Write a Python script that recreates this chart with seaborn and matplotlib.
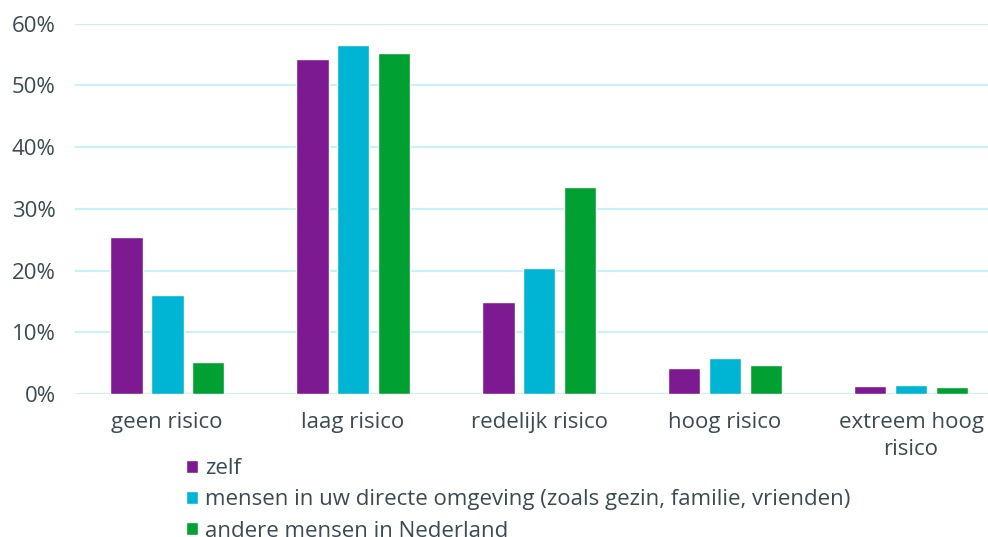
import pandas as pd
import matplotlib.pyplot as plt
import seaborn as sns

# categorieën en waarden (in %)
categories = ["geen risico", "laag risico", "redelijk risico", "hoog risico", "extreem hoog\nrisico"]
series_names = [
    "zelf",
    "mensen in uw directe omgeving (zoals gezin, familie, vrienden)",
    "andere mensen in Nederland",
]
zelf = [25.4, 54.3, 14.9, 4.3, 1.3]
omgeving = [16.0, 56.6, 20.4, 5.8, 1.5]
nederland = [5.2, 55.2, 33.6, 4.8, 1.1]

colors = ["#7D1A91", "#00B5D4", "#00A132"]
text_color = "#3B4B52"

df = pd.DataFrame({
    "categorie": categories * 3,
    "groep": [series_names[0]] * 5 + [series_names[1]] * 5 + [series_names[2]] * 5,
    "waarde": zelf + omgeving + nederland,
})

sns.set_style("white")
plt.rcParams["font.family"] = ["Open Sans", "DejaVu Sans"]

fig = plt.figure(figsize=(9.88, 5.37), dpi=100)
ax = fig.add_axes([0.076, 0.266, 0.924, 0.690])

sns.barplot(data=df, x="categorie", y="waarde", hue="groep", palette=colors,
            width=0.66, gap=0.2, ax=ax, legend=True, saturation=1)

ax.set_ylim(0, 60)
ax.set_xlim(-0.495, 4.414)
ax.set_yticks(range(0, 61, 10))
ax.set_yticklabels([f"{v}%" for v in range(0, 61, 10)])
ax.yaxis.grid(True, color="#C9F1FA", linewidth=1.5)
ax.set_axisbelow(True)
for s in ax.spines.values():
    s.set_visible(False)
ax.tick_params(axis="both", length=0, labelsize=16, colors=text_color)
ax.tick_params(axis="y", pad=14)
ax.tick_params(axis="x", pad=13)
for lbl in ax.get_xticklabels():
    lbl.set_linespacing(1.35)
ax.set_xlabel("")
ax.set_ylabel("")

handles, labels = ax.get_legend_handles_labels()
ax.get_legend().remove()
fig.legend(handles, labels, loc="upper left", bbox_to_anchor=(0.188, 0.147),
           frameon=False, fontsize=16, handlelength=0.55, handleheight=0.55,
           handletextpad=0.3, labelspacing=0.46, labelcolor=text_color,
           borderaxespad=0, borderpad=0)

fig.savefig("out.png", dpi=100)
